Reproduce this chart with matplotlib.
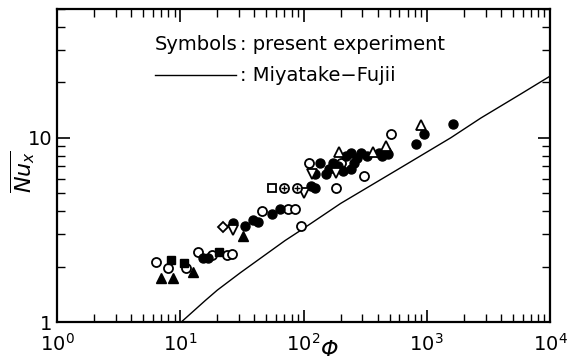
import numpy as np
import matplotlib
matplotlib.use('Agg')
import matplotlib.pyplot as plt

# Miyatake-Fujii correlation
phi_mf = [10.2, 16, 20, 30.7, 71, 94.6, 200, 615, 1567, 2748, 5807, 10000]
nu_mf = [1.0, 1.31, 1.49, 1.85, 2.77, 3.14, 4.40, 6.88, 10.0, 12.8, 17.3, 21.6]

# present experiment, grouped by symbol
open_circ_phi = [6.4, 8.0, 11.2, 14.0, 18.2, 24.1, 26.5, 46.4, 75.5, 86, 94.6, 110, 182, 200, 307, 510]
open_circ_nu = [2.11, 1.96, 1.96, 2.39, 2.30, 2.30, 2.33, 3.98, 4.08, 4.13, 3.34, 7.32, 5.37, 7.32, 6.23, 10.5]

fill_circ_phi = [15.4, 16.9, 27.0, 33.8, 39.2, 43.1, 56, 65, 114, 125, 137, 175, 125, 151,
                 211, 241, 241, 291, 255, 407, 464, 482, 814, 946, 1626,
                 160, 190, 220, 270, 330, 430]
fill_circ_nu = [2.22, 2.22, 3.43, 3.34, 3.56, 3.51, 3.88, 4.08, 5.50, 5.37, 7.32, 7.32, 6.39, 6.39,
                6.63, 6.80, 8.29, 8.29, 7.32, 8.29, 8.5, 8.2, 9.28, 10.5, 11.9,
                6.8, 7.0, 8.0, 7.8, 8.0, 8.0]

open_tri_phi = [193, 364, 464, 894]
open_tri_nu = [8.40, 8.40, 9.0, 11.75]

fill_tri_phi = [7.0, 8.77, 12.8, 32.5]
fill_tri_nu = [1.73, 1.73, 1.86, 2.92]

open_sq_phi = [56]
open_sq_nu = [5.37]

fill_sq_phi = [8.45, 10.8, 20.8]
fill_sq_nu = [2.16, 2.08, 2.39]

open_dia_phi = [22.4]
open_dia_nu = [3.26]

open_vtri_phi = [27.0, 100, 118, 182]
open_vtri_nu = [3.14, 5.04, 6.39, 6.47]

plus_circ_phi = [70, 89]
plus_circ_nu = [5.37, 5.37]

fig = plt.figure(figsize=(5.72, 3.62), dpi=100)
ax = fig.add_axes([57/572, 1 - 322/362, 493/572, 313/362])
ax.set_xscale('log')
ax.set_yscale('log')
ax.set_xlim(1, 1e4)
ax.set_ylim(1, 50)

ax.plot(phi_mf, nu_mf, 'k-', lw=1.0)

ms = 6.5
ax.plot(open_circ_phi, open_circ_nu, 'o', mfc='white', mec='black', mew=1.3, ms=ms, ls='none')
ax.plot(fill_circ_phi, fill_circ_nu, 'o', color='black', ms=ms, ls='none')
ax.plot(open_tri_phi, open_tri_nu, '^', mfc='white', mec='black', mew=1.3, ms=ms + 0.5, ls='none')
ax.plot(fill_tri_phi, fill_tri_nu, '^', color='black', ms=ms + 0.5, ls='none')
ax.plot(open_sq_phi, open_sq_nu, 's', mfc='white', mec='black', mew=1.3, ms=ms - 1, ls='none')
ax.plot(fill_sq_phi, fill_sq_nu, 's', color='black', ms=ms - 1, ls='none')
ax.plot(open_dia_phi, open_dia_nu, 'D', mfc='white', mec='black', mew=1.3, ms=ms - 1, ls='none')
ax.plot(open_vtri_phi, open_vtri_nu, 'v', mfc='white', mec='black', mew=1.3, ms=ms + 0.5, ls='none')
ax.plot(plus_circ_phi, plus_circ_nu, 'o', mfc='white', mec='black', mew=1.3, ms=ms, ls='none')
ax.plot(plus_circ_phi, plus_circ_nu, '+', color='black', mew=1.0, ms=ms - 1.5, ls='none')

# legend written as text
fs = 14
ax.text(0.199, 0.885, 'Symbols', transform=ax.transAxes, fontsize=fs, va='center', ha='left')
ax.text(0.372, 0.885, ': present experiment', transform=ax.transAxes, fontsize=fs, va='center', ha='left')
ax.plot([0.199, 0.364], [0.789, 0.789], 'k-', lw=1.0, transform=ax.transAxes)
ax.text(0.372, 0.789, ': Miyatake\u2212Fujii', transform=ax.transAxes, fontsize=fs, va='center', ha='left')

ax.set_xticks([1, 10, 100, 1000, 10000])
ax.set_yticks([1, 10])
ax.set_yticklabels(['1', '10'])
ax.tick_params(which='both', direction='in', top=True, right=True, labelsize=fs)
ax.tick_params(which='major', length=9, width=1.2)
ax.tick_params(which='minor', length=6, width=1.0)
ax.tick_params(axis='x', which='major', pad=8)
ax.tick_params(axis='y', which='minor', labelleft=False)
for s in ax.spines.values():
    s.set_linewidth(1.6)

fig.text(23 / 572, 1 - 172 / 362, r'$\overline{Nu_x}$', fontsize=fs + 2, rotation=90,
         ha='center', va='center')
fig.text(330 / 572, 1 - 350 / 362, '\u03a6', fontsize=fs + 2, style='italic', ha='center', va='center')

fig.savefig('out.png', dpi=100)
